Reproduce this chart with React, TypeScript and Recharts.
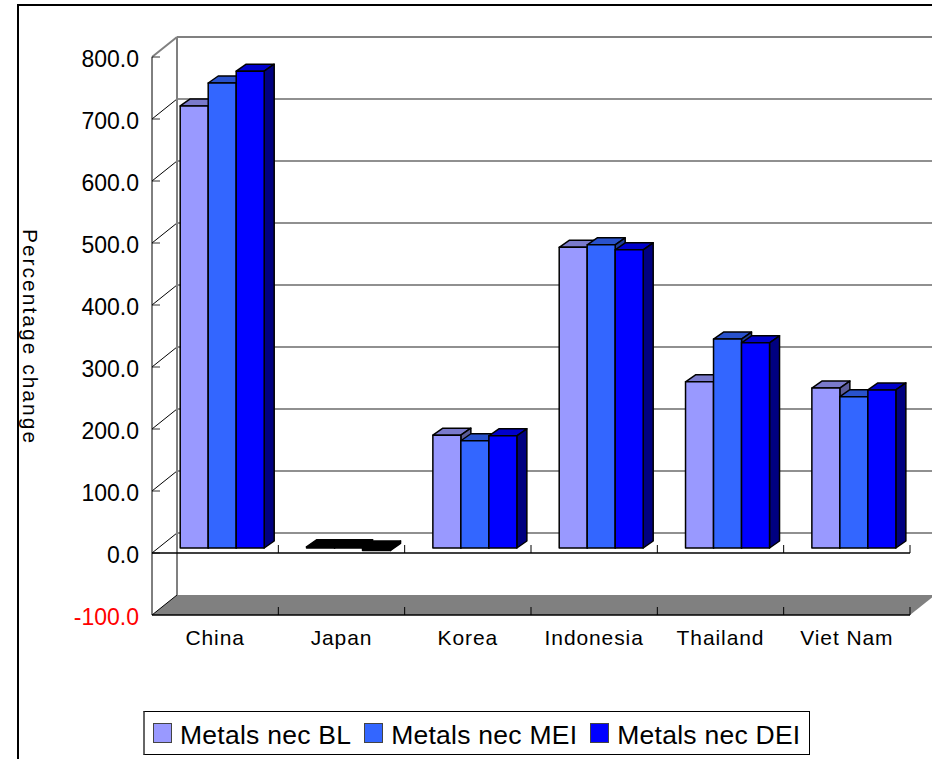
import { Bar, BarChart, CartesianGrid, Label, Legend, ReferenceLine, XAxis, YAxis } from "recharts";

const categories = ["China", "Japan", "Korea", "Indonesia", "Thailand", "Viet Nam"];
const blValues = [713, 2, 182, 485, 268, 258];
const meiValues = [750, 2, 173, 489, 337, 244];
const deiValues = [769, -4, 181, 481, 331, 255];
const yTicks = [-100, 0, 100, 200, 300, 400, 500, 600, 700, 800];

const data = categories.map((name, i) => ({ name, bl: blValues[i], mei: meiValues[i], dei: deiValues[i] }));

const W = 932;
const H = 759;
const PLOT_LEFT = 152;
const PLOT_RIGHT = 910;
const PLOT_TOP = 57;
const PLOT_BOTTOM = 615;
const ZERO_Y = 553;
// wall depth of the fake 3d box, and the depth of one bar
const WALL_X = 25;
const WALL_Y = 20;
const BAR_X = 10;
const BAR_Y = 7;
const STEP = (PLOT_RIGHT - PLOT_LEFT) / categories.length;
const FONT = '"Liberation Sans", Arial, sans-serif';

function GridLine(props: any) {
  const { x1, x2, y1 } = props;
  const isFloor = Math.abs(y1 - PLOT_BOTTOM) < 1;
  const isTop = Math.abs(y1 - PLOT_TOP) < 1;
  return (
    <g>
      {isFloor && (
        <polygon
          points={`${x1},${y1} ${x1 + WALL_X},${y1 - WALL_Y} ${x2 + WALL_X},${y1 - WALL_Y} ${x2},${y1}`}
          fill="#808080"
        />
      )}
      {isTop && (
        <line x1={x1 + WALL_X} x2={x1 + WALL_X} y1={y1 - WALL_Y} y2={PLOT_BOTTOM - WALL_Y} stroke="#808080" strokeWidth={2} />
      )}
      {!isFloor && (
        <line x1={x1 + WALL_X} x2={x2 + WALL_X} y1={y1 - WALL_Y} y2={y1 - WALL_Y} stroke={isTop ? "#808080" : "#222"} strokeWidth={isTop ? 2 : 1.2} />
      )}
      <line x1={x1} x2={x1 + WALL_X} y1={y1} y2={y1 - WALL_Y} stroke={isTop ? "#808080" : "#000"} strokeWidth={isTop ? 2 : 1} />
      {!isFloor && <line x1={x1} x2={x1 + 8} y1={y1} y2={y1} stroke="#333" strokeWidth={1} />}
    </g>
  );
}

function Box3D(props: any) {
  const { x, y, width, height, fill, top, side, value } = props;
  const left = x + 7.5;
  const right = left + width;
  // negative bars can come with a negative height
  const upper = Math.min(y, y + height) - 5;
  const lower = upper + Math.abs(height);
  // a near zero bar is all outline in the original
  const flat = Math.abs(Array.isArray(value) ? value[1] - value[0] : value) < 10;
  return (
    <g stroke="#000" strokeWidth={1.5} strokeLinejoin="round">
      <polygon points={`${left},${upper} ${left + BAR_X},${upper - BAR_Y} ${right + BAR_X},${upper - BAR_Y} ${right},${upper}`} fill={flat ? "#000" : top} />
      <polygon points={`${right},${upper} ${right + BAR_X},${upper - BAR_Y} ${right + BAR_X},${lower - BAR_Y} ${right},${lower}`} fill={flat ? "#000" : side} />
      <rect x={left} y={upper} width={width} height={Math.abs(height)} fill={flat ? "#000" : fill} />
    </g>
  );
}

function YTick(props: any) {
  const { x, y, payload } = props;
  return (
    <text x={x - 2} y={y + 2} dy="0.36em" textAnchor="end" fontSize={23} fontFamily={FONT} fill={payload.value < 0 ? "#ff0000" : "#000"}>
      {payload.value.toFixed(1)}
    </text>
  );
}

function XTick(props: any) {
  const { x, payload } = props;
  const edge = x + STEP / 2;
  return (
    <g>
      <text x={x} y={645} textAnchor="middle" fontSize={21} letterSpacing={0.9} fontFamily={FONT} fill="#000">
        {payload.value}
      </text>
      <line x1={edge} x2={edge} y1={PLOT_BOTTOM} y2={PLOT_BOTTOM - 8} stroke="#000" />
      <line x1={edge} x2={edge} y1={ZERO_Y} y2={ZERO_Y - 8} stroke="#000" />
    </g>
  );
}

function LegendBox(props: any) {
  return (
    <div
      style={{
        boxSizing: "border-box",
        height: 44,
        width: 667,
        border: "1px solid #000",
        borderLeft: "2px solid #666",
        background: "#fff",
        display: "flex",
        alignItems: "center",
        paddingLeft: 8,
        fontFamily: FONT,
        fontSize: 26.5,
        letterSpacing: 0.25,
        color: "#000",
        whiteSpace: "nowrap",
      }}
    >
      {props.payload.map((item: any) => (
        <span key={item.value} style={{ display: "flex", alignItems: "center", marginRight: 13 }}>
          <span style={{ boxSizing: "border-box", width: 19, height: 20, background: item.color, border: "1.5px solid #444", marginRight: 8 }} />
          <span style={{ position: "relative", top: 2 }}>{item.value}</span>
        </span>
      ))}
    </div>
  );
}

export default function App() {
  return (
    <div style={{ position: "absolute", left: 0, top: 0, width: W, height: H, overflow: "hidden", background: "#fff" }}>
      <div style={{ position: "absolute", left: 17, top: 4, width: W, height: H, border: "2.5px solid #000", boxSizing: "border-box" }} />
      <BarChart
        width={W}
        height={H}
        data={data}
        barGap={0}
        barCategoryGap={20.7}
        margin={{ top: PLOT_TOP, right: W - PLOT_RIGHT, bottom: 4, left: 0 }}
        style={{ position: "absolute", left: 0, top: 0 }}
      >
        <CartesianGrid vertical={false} horizontal={(p: any) => <GridLine key={p.key} {...p} />} />
        <XAxis dataKey="name" height={96} axisLine={{ stroke: "#000", strokeWidth: 1.5 }} tickLine={false} tick={<XTick />} interval={0} />
        <YAxis
          width={PLOT_LEFT}
          domain={[-100, 800]}
          ticks={yTicks}
          interval={0}
          axisLine={{ stroke: "#000", strokeWidth: 1 }}
          tickLine={false}
          tickMargin={5}
          tick={<YTick />}
        >
          <Label
            content={() => (
              <text
                transform="translate(31,337) rotate(90)"
                textAnchor="middle"
                dy="0.36em"
                fontSize={21}
                letterSpacing={2}
                fontFamily={FONT}
                fill="#000"
              >
                Percentage change
              </text>
            )}
          />
        </YAxis>
        <ReferenceLine y={0} stroke="#000" strokeWidth={1.5} />
        <Legend
          verticalAlign="bottom"
          content={<LegendBox />}
          itemSorter={null}
          wrapperStyle={{ left: 143, width: 667 }}
        />
        <Bar dataKey="bl" name="Metals nec BL" fill="#9999ff" isAnimationActive={false} shape={<Box3D top="#7a7acc" side="#5c5c99" />} />
        <Bar dataKey="mei" name="Metals nec MEI" fill="#3366ff" isAnimationActive={false} shape={<Box3D top="#2952cc" side="#1f3d99" />} />
        <Bar dataKey="dei" name="Metals nec DEI" fill="#0000ff" isAnimationActive={false} shape={<Box3D top="#0000cc" side="#000080" />} />
      </BarChart>
    </div>
  );
}
